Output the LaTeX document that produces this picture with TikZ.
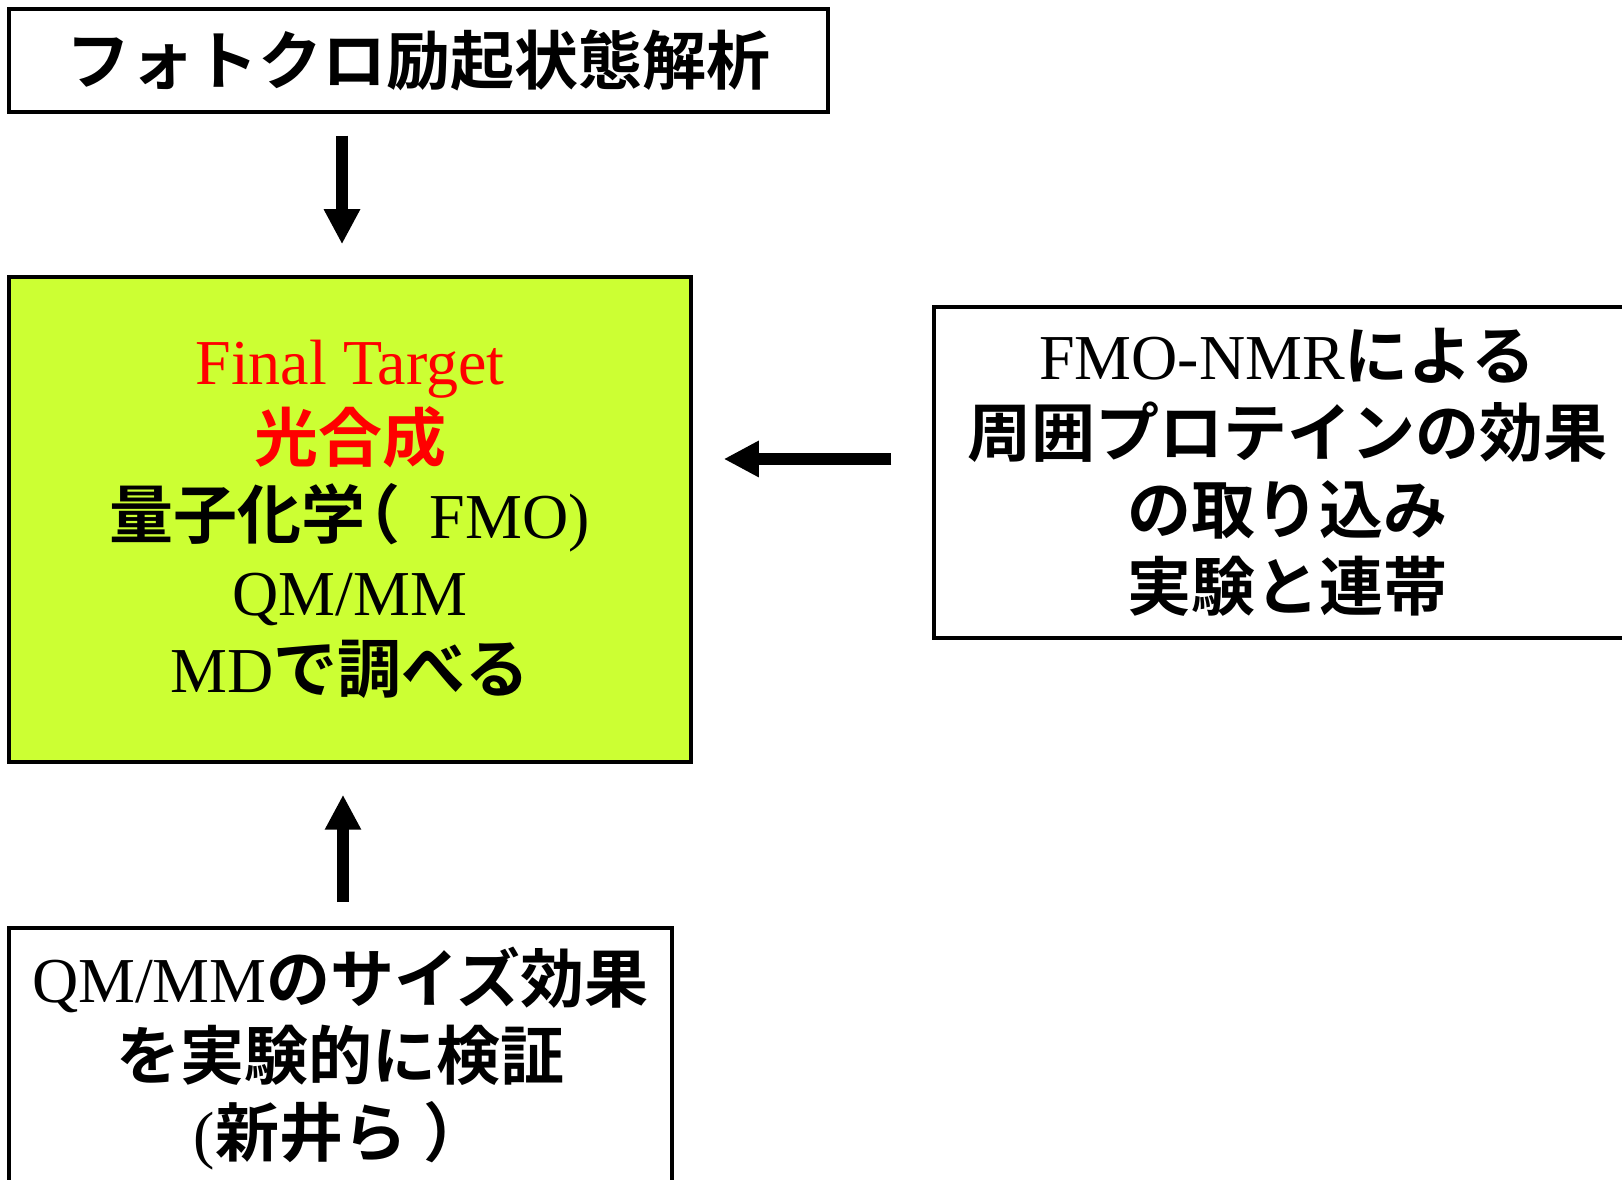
\documentclass[tikz,border=0pt]{standalone}
\usepackage{fontspec}
\setmainfont{Liberation Serif}
\newfontfamily\jpfont[BoldFont={Noto Sans CJK JP Bold}]{Noto Sans CJK JP}
\newcommand\J[1]{{\jpfont\bfseries #1}}
\usetikzlibrary{arrows.meta}
\definecolor{limegreen}{HTML}{CCFF33}
\begin{document}
\begin{tikzpicture}[x=1pt,y=1pt,
  box/.style={draw=black,line width=3.5pt,inner sep=0pt,align=center,font=\fontsize{64}{77}\selectfont},
  bigarr/.style={line width=12pt,-{Triangle[length=35pt,width=34pt]}}]
\useasboundingbox[fill=white] (0,0) rectangle (1622,1180);
\node[box,minimum width=819pt,minimum height=103pt] (top) at (418.5,1119.5) {\J{フォトクロ励起状態解析}};
\node[box,fill=limegreen,minimum width=682pt,minimum height=485pt] (green) at (350,660.5)
  {\textcolor{red}{Final Target}\\ \textcolor{red}{\J{光合成}}\\ \J{量子化学}\kern-30pt\J{（}\kern30pt FMO)\\ QM/MM\\ MD\J{で調べる}};
\node[box,minimum width=706pt,minimum height=331pt] (rbox) at (1287,707.5)
  {FMO-NMR\J{による}\\ \J{周囲プロテインの効果}\\ \J{の取り込み}\\ \J{実験と連帯}};
\node[box,minimum width=663pt,minimum height=262pt] (bbox) at (340.5,121)
  {QM/MM\J{のサイズ効果}\\ \J{を実験的に検証}\\ (\J{新井ら}\kern16pt\J{）}};
\draw[bigarr,shorten <=22pt,shorten >=31pt] (top.south -| 342,0) -- (green.north -| 342,0);
\draw[bigarr,shorten <=41pt,shorten >=31pt] (rbox.west |- 0,721) -- (green.east |- 0,721);
\draw[bigarr,shorten <=24pt,shorten >=31pt] (bbox.north -| 343,0) -- (green.south -| 343,0);
\end{tikzpicture}
\end{document}
